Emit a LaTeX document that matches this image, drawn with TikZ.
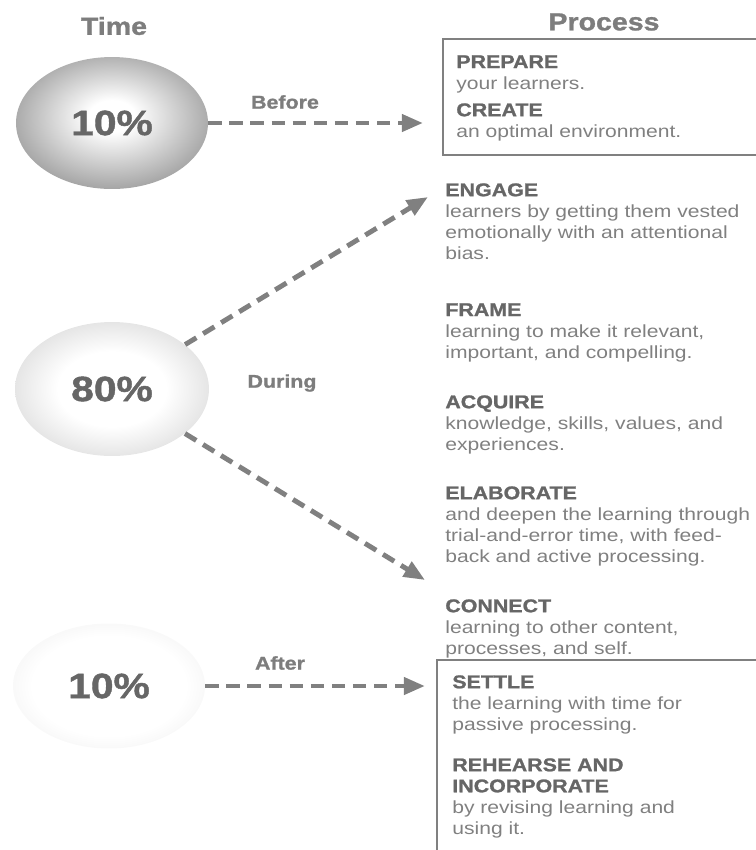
\documentclass[tikz,border=0pt]{standalone}
\usepackage{fontspec}
\setmainfont[FakeStretch=1.2]{Liberation Sans}
\newfontfamily\heavyfont[FakeStretch=1.16,FakeBold=1.2]{Liberation Sans Bold}
\usetikzlibrary{arrows.meta,shapes.geometric}
\definecolor{inkhead}{gray}{0.40}
\definecolor{inkbody}{gray}{0.50}
\definecolor{inkline}{gray}{0.50}
\pgfdeclareradialshading{eggA}{\pgfpoint{0bp}{3bp}}{color(0bp)=(white); color(6bp)=(white); color(28bp)=(black!38); color(50bp)=(black!50)}
\pgfdeclareradialshading{eggB}{\pgfpoint{0bp}{0bp}}{color(0bp)=(white); color(14bp)=(white); color(36bp)=(black!20); color(50bp)=(black!34)}
\pgfdeclareradialshading{eggC}{\pgfpoint{0bp}{0bp}}{color(0bp)=(white); color(20bp)=(white); color(42bp)=(black!11); color(50bp)=(black!24)}
\tikzset{>={Triangle[length=12pt,width=9.5pt]}}
\tikzset{
  egg/.style={ellipse, shade, minimum width=3.84cm, minimum height=2.64cm, inner sep=0pt,
    font=\fontsize{20}{22}\heavyfont, text=inkhead},
  flow/.style={->, draw=inkline, line width=2.8pt, dash pattern=on 7.5pt off 4.5pt},
  when/.style={font=\fontsize{10.5}{12}\heavyfont, text=inkhead!85},
  heading/.style={font=\fontsize{14}{16}\heavyfont, text=inkhead!85},
  stage/.style={anchor=north west, inner sep=0pt, align=left, text=inkbody,
    font=\fontsize{10}{12}\selectfont},
  frameline/.style={draw=inkbody, line width=0.8pt}
}
\newcommand{\hd}[1]{{\fontsize{10.5}{12}\heavyfont\color{inkhead}#1}}

\begin{document}
\begin{tikzpicture}[x=0.02cm,y=-0.02cm]
  \useasboundingbox (0,0) rectangle (756,850);
  % column titles
  \node[heading] (time) at (114,26) {Time};
  \node[heading] (process) at (604,22) {Process};
  % time shares
  \node[egg, shading=eggA] (t1) at (112,123) {10\%};
  \node[egg, shading=eggB, minimum width=3.88cm, minimum height=2.68cm] (t2) at (112,389) {80\%};
  \node[egg, shading=eggC, minimum height=2.5cm] (t3) at (109,686) {10\%};
  % before
  \draw[frameline] (443,39) rectangle (790,155);
  \node[stage] (prepare) at (456,55) {\hd{PREPARE}\\your learners.};
  \node[stage] (create) at (456,103) {\hd{CREATE}\\an optimal environment.};
  % during
  \node[stage] (engage) at (445,183) {\hd{ENGAGE}\\learners by getting them vested\\emotionally with an attentional\\bias.};
  \node[stage] (frame) at (445,303) {\hd{FRAME}\\learning to make it relevant,\\important, and compelling.};
  \node[stage] (acquire) at (445,395) {\hd{ACQUIRE}\\knowledge, skills, values, and\\experiences.};
  \node[stage] (elaborate) at (445,486) {\hd{ELABORATE}\\and deepen the learning through\\trial-and-error time, with feed-\\back and active processing.};
  \node[stage] (connect) at (445,599) {\hd{CONNECT}\\learning to other content,\\processes, and self.};
  % after
  \draw[frameline] (437,660) rectangle (790,880);
  \node[stage] (settle) at (452,675) {\hd{SETTLE}\\the learning with time for\\passive processing.};
  \node[stage] (rehearse) at (452,758) {\hd{REHEARSE AND}\\\hd{INCORPORATE}\\by revising learning and\\using it.};
  % arrows
  \coordinate (beforetip) at (423,123);
  \coordinate (engagetip) at (428,197);
  \coordinate (connecttip) at (425,580);
  \coordinate (aftertip) at (425,686);
  \draw[flow] (t1.east) -- (beforetip);
  \draw[flow] (t2) -- (engagetip);
  \draw[flow] (t2) -- (connecttip);
  \draw[flow] (t3.east) -- (aftertip);
  \node[when] (before) at (285,102) {Before};
  \node[when] (during) at (282,383) {During};
  \node[when] (after) at (280,663) {After};
\end{tikzpicture}
\end{document}
